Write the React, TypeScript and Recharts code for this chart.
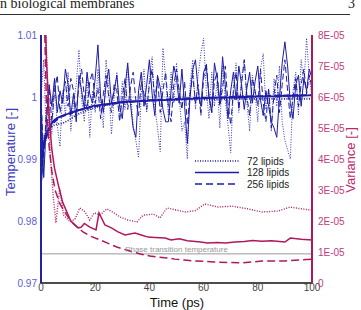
import { LineChart, Line, XAxis, YAxis, ReferenceLine } from 'recharts';

// instantaneous temperature, one sample per ps
const time = [
  0, 1, 2, 3, 4, 5, 6, 7, 8, 9, 10, 11, 12, 13, 14, 15, 16, 17, 18, 19, 20,
  21, 22, 23, 24, 25, 26, 27, 28, 29, 30, 31, 32, 33, 34, 35, 36, 37, 38, 39, 40,
  41, 42, 43, 44, 45, 46, 47, 48, 49, 50, 51, 52, 53, 54, 55, 56, 57, 58, 59, 60,
  61, 62, 63, 64, 65, 66, 67, 68, 69, 70, 71, 72, 73, 74, 75, 76, 77, 78, 79, 80,
  81, 82, 83, 84, 85, 86, 87, 88, 89, 90, 91, 92, 93, 94, 95, 96, 97, 98, 99, 100,
];

const temp72 = [
  1.0, 1.006, 0.993, 0.9985, 0.994, 1.003, 0.9955, 0.992, 1.001, 0.997, 1.004,
  0.9945, 0.999, 1.002, 1.0076, 0.9995, 0.996, 1.0035, 0.9935, 1.001, 0.9975,
  1.0045, 0.999, 0.995, 1.006, 1.0015, 0.994, 1.0, 1.004, 0.9965, 1.0025,
  0.998, 1.005, 1.001, 0.9955, 0.993, 0.9902, 1.0005, 1.0045, 0.9975, 1.003,
  1.0065, 0.9985, 0.995, 0.9912, 1.0079, 1.003, 0.997, 1.004, 0.999, 1.0055,
  1.0, 0.9945, 0.996, 0.99, 1.002, 1.006, 0.998, 1.0035, 1.007, 1.0095,
  1.001, 0.9965, 1.004, 0.9985, 1.0025, 0.995, 1.005, 0.9995, 0.9955, 0.991,
  1.0015, 1.0055, 0.9975, 1.003, 1.006, 0.999, 0.9945, 1.0035, 1.0005, 0.996,
  1.0045, 1.007, 0.998, 1.001, 0.9945, 1.003, 0.9985, 1.005, 0.996, 0.993,
  0.9915, 0.99, 1.001, 1.004, 0.997, 1.006, 1.002, 1.0095, 1.003, 1.0,
];

const temp128 = [
  1.0, 0.987, 0.996, 1.002, 0.9985, 1.003, 0.9975, 1.001, 0.999, 1.0045, 1.002,
  0.997, 1.0005, 0.996, 1.0035, 1.001, 0.998, 1.004, 1.0005, 0.999, 1.003,
  1.0084, 1.0, 0.9975, 1.002, 1.0045, 0.999, 1.001, 1.0035, 0.9985, 0.9965,
  1.0015, 1.0055, 0.999, 0.995, 0.9935, 1.001, 1.004, 0.9985, 1.002, 1.006,
  1.0005, 0.997, 1.0035, 1.0015, 0.998, 0.996, 0.996, 1.001, 1.005, 1.003,
  0.999, 1.0045, 0.9985, 0.9925, 1.0, 1.0045, 1.006, 1.001, 0.9985, 1.004,
  1.005, 1.0, 0.9975, 1.0055, 1.003, 0.999, 1.0065, 1.002, 0.9965, 1.001,
  1.004, 0.9995, 1.005, 1.002, 0.998, 1.0015, 1.004, 0.999, 1.0025, 1.005,
  0.9995, 0.997, 1.001, 0.9985, 0.996, 0.995, 0.9935, 1.0, 1.0055, 1.0089,
  1.005, 0.999, 0.9965, 1.002, 1.0035, 0.9985, 1.003, 1.001, 1.0045, 1.003,
];

const temp256 = [
  1.0, 0.99, 0.998, 1.0015, 0.996, 1.001, 1.0035, 0.9975, 1.0, 1.0025, 0.9985,
  1.003, 1.001, 0.9975, 1.002, 1.0045, 1.0, 0.998, 1.0025, 1.004, 0.999,
  1.0015, 0.9965, 1.0005, 1.0035, 1.0, 0.9975, 1.002, 1.001, 0.996, 1.0,
  1.003, 0.998, 1.0015, 1.004, 0.9995, 0.997, 1.0025, 1.0005, 0.998, 1.002,
  1.0045, 0.9995, 1.003, 0.9975, 1.001, 1.004, 0.9985, 0.996, 1.002, 1.0045,
  1.001, 0.998, 1.0025, 0.9955, 1.0005, 1.0035, 0.999, 1.002, 0.997, 1.003,
  1.0055, 1.0, 0.9975, 1.0025, 1.004, 0.9985, 1.0015, 1.005, 0.999, 0.9955,
  1.001, 1.004, 0.998, 1.002, 1.006, 1.0, 0.997, 1.003, 1.001, 0.9985,
  1.0045, 0.999, 0.996, 1.0015, 0.995, 1.0005, 1.0035, 0.9975, 1.002, 1.006,
  1.001, 0.9965, 1.0, 1.003, 0.9985, 1.002, 1.0045, 1.0005, 1.0035, 1.0015,
];

// running averages of the temperature
const avgTime = [0, 1, 2, 3, 4, 5, 6, 8, 10, 12, 15, 18, 20, 25, 30, 35, 40, 45, 50, 55, 60, 65, 70, 75, 80, 85, 90, 95, 100];
const avg72 = [0.986, 0.993, 0.9945, 0.995, 0.9952, 0.9955, 0.9956, 0.9958, 0.9962, 0.9968, 0.9975, 0.998, 0.9983, 0.9988, 0.9991, 0.9993, 0.9994, 0.9995, 0.9995, 0.9996, 0.9996, 0.9996, 0.9997, 0.9997, 0.9997, 0.9997, 0.9997, 0.9997, 0.9997];
const avg128 = [0.986, 0.9925, 0.994, 0.995, 0.9958, 0.9963, 0.9966, 0.997, 0.9973, 0.9976, 0.998, 0.9984, 0.9986, 0.9989, 0.9992, 0.9993, 0.9994, 0.9995, 0.9996, 0.9997, 0.9998, 0.9999, 0.9999, 1.0, 1.0001, 1.0001, 1.0002, 1.0002, 1.0003];
const avg256 = [0.986, 0.992, 0.9935, 0.9946, 0.9955, 0.996, 0.9964, 0.9969, 0.9972, 0.9976, 0.998, 0.9983, 0.9985, 0.9988, 0.9991, 0.9993, 0.9995, 0.9996, 0.9997, 0.9998, 0.9999, 0.9999, 1.0, 1.0001, 1.0001, 1.0002, 1.0002, 1.0003, 1.0003];

// variance of the temperature (right axis)
const var72Time = [0, 1, 2, 3.3, 4.5, 5.5, 6.9, 8.3, 10.6, 12.5, 14.3, 16.2, 18, 19.6, 21.8, 24.3, 26.6, 29.1, 32.1, 35.4, 37.7, 41.4, 43.9, 46.5, 48.7, 53.1, 56.8, 60.5, 65.3, 70.5, 76.4, 81.5, 87.5, 91.9, 96.3, 100];
const var72 = [16e-5, 11e-5, 7.5e-5, 4.3e-5, 2.8e-5, 1.94e-5, 3.05e-5, 2.2e-5, 1.98e-5, 2.05e-5, 2.42e-5, 2.3e-5, 2.03e-5, 2.26e-5, 2.2e-5, 2.39e-5, 2.28e-5, 2.13e-5, 2.03e-5, 1.97e-5, 2.19e-5, 2.22e-5, 2.1e-5, 2.42e-5, 2.38e-5, 2.29e-5, 2.33e-5, 2.55e-5, 2.45e-5, 2.48e-5, 2.39e-5, 2.29e-5, 2.32e-5, 2.45e-5, 2.39e-5, 2.35e-5];

const var128Time = [0, 1, 2, 3, 4, 5, 6.3, 8, 11, 13.7, 14.8, 16, 18, 20.3, 21.4, 23.6, 26, 28.4, 31, 34.7, 37, 39.5, 42, 45.8, 48, 51, 54, 58, 61.6, 65, 68, 71.6, 75, 78, 81.5, 85, 90, 92, 96, 100];
const var128 = [14e-5, 10.5e-5, 7.2e-5, 5.4e-5, 4.3e-5, 3.7e-5, 3.2e-5, 2.6e-5, 2.0e-5, 1.78e-5, 1.8e-5, 1.92e-5, 1.8e-5, 1.71e-5, 2.26e-5, 1.87e-5, 1.78e-5, 1.65e-5, 1.55e-5, 1.61e-5, 1.55e-5, 1.48e-5, 1.47e-5, 1.45e-5, 1.39e-5, 1.43e-5, 1.36e-5, 1.33e-5, 1.29e-5, 1.31e-5, 1.29e-5, 1.32e-5, 1.34e-5, 1.37e-5, 1.35e-5, 1.36e-5, 1.32e-5, 1.45e-5, 1.41e-5, 1.39e-5];

const var256Time = [0, 1, 2, 3, 4, 5.2, 7, 9.5, 12, 15.5, 18, 21.8, 25, 28, 31, 34, 37, 40.2, 43, 46.5, 49.4, 53, 56.8, 60, 64, 69, 74, 78, 81.5, 86, 90, 95, 100];
const var256 = [20e-5, 9.5e-5, 5.8e-5, 4.4e-5, 3.6e-5, 3.0e-5, 2.55e-5, 2.19e-5, 1.9e-5, 1.65e-5, 1.52e-5, 1.39e-5, 1.27e-5, 1.16e-5, 1.08e-5, 1.0e-5, 0.93e-5, 0.87e-5, 0.84e-5, 0.81e-5, 0.77e-5, 0.74e-5, 0.71e-5, 0.7e-5, 0.68e-5, 0.66e-5, 0.65e-5, 0.68e-5, 0.71e-5, 0.71e-5, 0.71e-5, 0.74e-5, 0.77e-5];

const phaseTransition = 0.9747;

const xTicks = [0, 20, 40, 60, 80, 100];
const xMinor = [0, 5, 10, 15, 20, 25, 30, 35, 40, 45, 50, 55, 60, 65, 70, 75, 80, 85, 90, 95, 100];
const tempTicks = [0.97, 0.98, 0.99, 1.0, 1.01];
const tempMinor = [0.97, 0.9725, 0.975, 0.9775, 0.98, 0.9825, 0.985, 0.9875, 0.99, 0.9925, 0.995, 0.9975, 1.0, 1.0025, 1.005, 1.0075, 1.01];
const varTicks = [0, 1e-5, 2e-5, 3e-5, 4e-5, 5e-5, 6e-5, 7e-5, 8e-5];
const varMinor = Array.from({ length: 25 }, (_, i) => (i * 1e-5) / 3);

const legendItems = [
  { name: '72 lipids', dash: '1 1.5' },
  { name: '128 lipids', dash: undefined },
  { name: '256 lipids', dash: '7 4' },
];

const BLUE = '#1c1ca6';
const CRIMSON = '#b0185e';

const noisyData = time.map((t, i) => ({ t, T72: temp72[i], T128: temp128[i], T256: temp256[i] }));
const avgData = avgTime.map((t, i) => ({ t, A72: avg72[i], A128: avg128[i], A256: avg256[i] }));
const var72Data = var72Time.map((t, i) => ({ t, v: var72[i] }));
const var128Data = var128Time.map((t, i) => ({ t, v: var128[i] }));
const var256Data = var256Time.map((t, i) => ({ t, v: var256[i] }));

const fmtTemp = (v: number) => String(Number(v.toFixed(2)));
const fmtVar = (v: number) => (v === 0 ? '0' : `${Math.round(v * 1e5)}E-05`);

export default function App() {
  return (
    <div style={{ position: 'absolute', left: 0, top: 0, width: 361, height: 310, background: '#fff', fontFamily: 'Liberation Sans, Arial, sans-serif' }}>
      <LineChart width={361} height={310} data={noisyData} margin={{ top: 35, right: 0, bottom: 0, left: 0 }}>
        <XAxis
          xAxisId="x"
          dataKey="t"
          type="number"
          domain={[0, 100]}
          allowDataOverflow
          ticks={xTicks}
          interval={0}
          height={27}
          tickLine={false}
          tickSize={0}
          tickMargin={1}
          axisLine={{ stroke: '#111', strokeWidth: 1.5 }}
          tick={{ fontSize: 10, fill: '#444' }}
        />
        {/* inward tick marks */}
        <XAxis xAxisId="xMinor" type="number" domain={[0, 100]} allowDataOverflow ticks={xMinor} interval={0} mirror height={0} tick={false} tickSize={3} axisLine={false} tickLine={{ stroke: '#111' }} />
        <XAxis xAxisId="xMajor" type="number" domain={[0, 100]} allowDataOverflow ticks={xTicks} interval={0} mirror height={0} tick={false} tickSize={6} axisLine={false} tickLine={{ stroke: '#111' }} />
        <XAxis xAxisId="xTop" orientation="top" type="number" domain={[0, 100]} allowDataOverflow ticks={xMinor} interval={0} mirror height={0} tick={false} tickSize={5} axisLine={{ stroke: '#111', strokeWidth: 1.5 }} tickLine={{ stroke: '#111' }} />

        <YAxis
          yAxisId="left"
          type="number"
          domain={[0.97, 1.01]}
          allowDataOverflow
          ticks={tempTicks}
          interval={0}
          width={41}
          tickLine={false}
          tickSize={4}
          tickMargin={0}
          tickFormatter={fmtTemp}
          axisLine={{ stroke: '#2222a0', strokeWidth: 2 }}
          tick={{ fontSize: 10, fill: '#5b5bd6' }}
        />
        <YAxis yAxisId="leftMinor" type="number" domain={[0.97, 1.01]} allowDataOverflow ticks={tempMinor} interval={0} mirror width={0} tick={false} tickSize={3} axisLine={false} tickLine={{ stroke: '#2222a0' }} />
        <YAxis yAxisId="leftMajor" type="number" domain={[0.97, 1.01]} allowDataOverflow ticks={tempTicks} interval={0} mirror width={0} tick={false} tickSize={5} axisLine={false} tickLine={{ stroke: '#2222a0' }} />

        <YAxis
          yAxisId="right"
          orientation="right"
          type="number"
          domain={[0, 8e-5]}
          allowDataOverflow
          ticks={varTicks}
          interval={0}
          width={49}
          tickLine={false}
          tickSize={4}
          tickMargin={2}
          tickFormatter={fmtVar}
          axisLine={{ stroke: CRIMSON, strokeWidth: 2 }}
          tick={{ fontSize: 10, fill: '#c23a7f', textAnchor: 'start' }}
        />
        <YAxis yAxisId="rightMinor" orientation="right" type="number" domain={[0, 8e-5]} allowDataOverflow ticks={varMinor} interval={0} mirror width={0} tick={false} tickSize={3} axisLine={false} tickLine={{ stroke: CRIMSON }} />
        <YAxis yAxisId="rightMajor" orientation="right" type="number" domain={[0, 8e-5]} allowDataOverflow ticks={varTicks} interval={0} mirror width={0} tick={false} tickSize={5} axisLine={false} tickLine={{ stroke: CRIMSON }} />

        <ReferenceLine xAxisId="x" yAxisId="left" y={1} stroke="#c8c8c8" />
        <ReferenceLine
          xAxisId="x"
          yAxisId="left"
          y={phaseTransition}
          stroke="#9a9a9a"
          label={{ value: 'Phase transition temperature', position: 'top', offset: 2, fontSize: 8, fill: '#999' }}
        />

        <Line xAxisId="x" yAxisId="left" dataKey="T72" stroke="#3535b8" strokeWidth={1} strokeDasharray="1 1.5" dot={false} activeDot={false} isAnimationActive={false} />
        <Line xAxisId="x" yAxisId="left" dataKey="T128" stroke={BLUE} strokeWidth={1} dot={false} activeDot={false} isAnimationActive={false} />
        <Line xAxisId="x" yAxisId="left" dataKey="T256" stroke={BLUE} strokeWidth={1} strokeDasharray="6 3" dot={false} activeDot={false} isAnimationActive={false} />

        <Line xAxisId="x" yAxisId="left" data={avgData} dataKey="A72" type="monotone" stroke={BLUE} strokeWidth={1.8} strokeDasharray="1 1.5" dot={false} activeDot={false} isAnimationActive={false} />
        <Line xAxisId="x" yAxisId="left" data={avgData} dataKey="A128" type="monotone" stroke={BLUE} strokeWidth={1.8} dot={false} activeDot={false} isAnimationActive={false} />
        <Line xAxisId="x" yAxisId="left" data={avgData} dataKey="A256" type="monotone" stroke={BLUE} strokeWidth={1.8} strokeDasharray="6 3" dot={false} activeDot={false} isAnimationActive={false} />

        <Line xAxisId="x" yAxisId="right" data={var72Data} dataKey="v" stroke={CRIMSON} strokeWidth={1.4} strokeDasharray="1 1.5" dot={false} activeDot={false} isAnimationActive={false} />
        <Line xAxisId="x" yAxisId="right" data={var128Data} dataKey="v" stroke={CRIMSON} strokeWidth={1.5} dot={false} activeDot={false} isAnimationActive={false} />
        <Line xAxisId="x" yAxisId="right" data={var256Data} dataKey="v" stroke={CRIMSON} strokeWidth={1.5} strokeDasharray="8 4" dot={false} activeDot={false} isAnimationActive={false} />
      </LineChart>

      {/* page header, axis titles and legend */}
      <svg width={361} height={310} style={{ position: 'absolute', left: 0, top: 0, pointerEvents: 'none' }}>
        <text x={0} y={8} fontFamily="Liberation Serif, serif" fontSize={14} fill="#222">n biological membranes</text>
        <text x={355} y={8} fontFamily="Liberation Serif, serif" fontSize={14} fill="#222" textAnchor="end">3</text>
        <line x1={0} x2={350} y1={14.5} y2={14.5} stroke="#333" strokeWidth={1} />

        <text x={177} y={302} fontSize={13} fill="#111" textAnchor="middle" dominantBaseline="central">Time (ps)</text>
        <text x={10} y={152} fontSize={13} fill="#3b3bc4" textAnchor="middle" dominantBaseline="central" transform="rotate(-90 10 152)">Temperature [-]</text>
        <text x={350} y={160} fontSize={13} fill="#b8286e" textAnchor="middle" dominantBaseline="central" transform="rotate(-90 350 160)">Variance [-]</text>

        {legendItems.map((item, i) => (
          <g key={item.name}>
            <line x1={195} x2={239} y1={161 + i * 11.5} y2={161 + i * 11.5} stroke={BLUE} strokeWidth={1.3} strokeDasharray={item.dash} />
            <text x={247} y={161 + i * 11.5} fontSize={10} fill="#222" dominantBaseline="central">{item.name}</text>
          </g>
        ))}
      </svg>
    </div>
  );
}
